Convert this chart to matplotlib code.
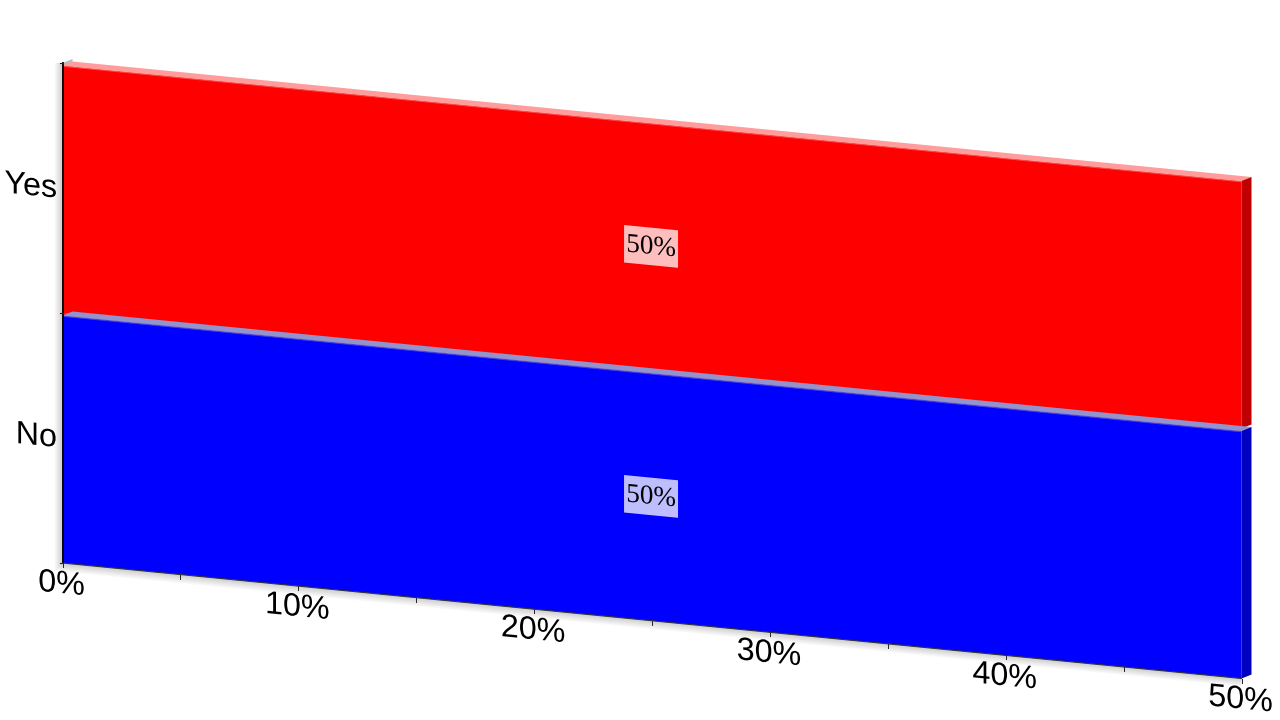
import matplotlib
matplotlib.use("Agg")
import matplotlib.pyplot as plt
from matplotlib.patheffects import AbstractPathEffect
from matplotlib.transforms import Affine2D
import numpy as np

# data
categories = ["No", "Yes"]
values = [50, 50]
value_labels = ["50%", "50%"]
x_ticks = [0, 10, 20, 30, 40, 50]
x_tick_labels = ["0%", "10%", "20%", "30%", "40%", "50%"]
x_minor = [5, 15, 25, 35, 45]

front_colors = ["#0000ff", "#ff0000"]
top_colors = ["#9494cc", "#ff9c9c"]
side_colors = ["#0000c0", "#c00000"]

# the fake 3d view: one skewed plane plus a small depth offset, in pixels
x0, y0 = 62.5, 563
sx, skew, sy = 23.58, 2.31, 250
dx, dy = 10, -4
bar_height = 0.99


class Shear(AbstractPathEffect):
    # text in the reference is sheared, not rotated: stems stay vertical
    def __init__(self, k):
        super().__init__()
        self.k = k

    def draw_path(self, renderer, gc, tpath, affine, rgbFace=None):
        ext = tpath.get_extents()
        cx = affine.transform(((ext.x0 + ext.x1) / 2, 0))[0]
        shear = Affine2D.from_values(1, -self.k, 0, 1, 0, self.k * cx)
        renderer.draw_path(gc, tpath, affine + shear, rgbFace)


def px(x, y, d=0):
    return x0 + sx * x + dx * d, y0 + skew * x - sy * y + dy * d


def poly(points, color, z, alpha=None):
    xy = np.array([px(*p) for p in points])
    ax.fill(xy[:, 0], xy[:, 1], color=color, lw=0, zorder=z, alpha=alpha)


fig = plt.figure(figsize=(12.8, 7.2), dpi=100)
ax = fig.add_axes([0, 0, 1, 1])
plane = Affine2D.from_values(sx, skew, 0, -sy, x0, y0) + ax.transData
shear_fx = [Shear(skew / sx)]
xmax = max(x_ticks)
ymax = len(categories)

# floor and wall behind the bars
poly([(0, 0, 0), (xmax, 0, 0), (xmax, 0, 1), (0, 0, 1)], "#d8d8d8", 1)
poly([(0, 0, 0), (0, ymax, 0), (0, ymax, 1), (0, 0, 1)], "#bcbcbc", 1)

# soft shadow round the axis lines
for i in range(1, 9):
    a = 0.022
    xa, ya = px(0, 0)
    xb, yb = px(0, ymax)
    ax.fill([xa - i, xa, xb, xb - i], [ya + i, ya, yb, yb], color="black", alpha=a, lw=0, zorder=1)
    xc, yc = px(xmax, 0)
    ax.fill([xa - i, xc, xc, xa], [ya + i, yc + i, yc, ya], color="black", alpha=a, lw=0, zorder=1)

# bars: upper one first so the top face of the lower one sits on it
for i in [1, 0]:
    ax.barh(i + bar_height / 2, values[i], height=bar_height, color=front_colors[i],
            lw=0, transform=plane, zorder=3)
    # red bar reaches down to the blue bar, no gap
    if i == 1:
        ax.barh(i - 0.005, values[i], height=0.01, color=front_colors[i], lw=0,
                transform=plane, zorder=3)
    t = i + bar_height
    poly([(0, t, 0), (values[i], t, 0), (values[i], t, 1), (0, t, 1)], top_colors[i], 4)
    poly([(values[i], i, 0), (values[i], t, 0), (values[i], t, 1), (values[i], i, 1)], side_colors[i], 4)
    # soft lower edge on the top face
    xl, yl = px(0, t)
    xr, yr = px(values[i], t)
    ax.plot([xl, xr], [yl + 0.6, yr + 0.6], color=top_colors[i], lw=1.0, alpha=0.45, zorder=4,
            solid_capstyle="butt")

# axis lines and ticks
xa, ya = px(0, 0)
xb, yb = px(0, ymax)
xc, yc = px(xmax, 0)
ax.plot([xa, xb], [ya, yb], color="black", lw=1.3, zorder=5)
ax.plot([xa, xc], [ya, yc], color="#333333", lw=0.8, zorder=5)
for v in sorted(x_ticks + x_minor):
    x, y = px(v, 0)
    ax.plot([x, x], [y, y + 4], color="#222222", lw=0.7, zorder=5)
for v in range(ymax + 1):
    x, y = px(0, v)
    ax.plot([x - 3, x], [y, y], color="#222222", lw=0.8, zorder=5)

# tick labels
for v, lab in zip(x_ticks, x_tick_labels):
    x, y = px(v, 0)
    ax.text(x - 1, y + 22, lab, fontsize=23.2, family="Liberation Sans", ha="center", va="center",
            color="black", zorder=6, path_effects=shear_fx)
for i, lab in enumerate(categories):
    x, y = px(0, i + 0.5)
    ax.text(x - 5.5, y - 1, lab, fontsize=23.2, family="Liberation Sans", ha="right", va="center",
            color="black", zorder=6, path_effects=shear_fx)

# value labels on a pale box
half_w, half_h = 1.145, 0.075
for i, lab in enumerate(value_labels):
    cx, cy = values[i] / 2 - 0.04, i + 0.497
    poly([(cx - half_w, cy - half_h), (cx + half_w, cy - half_h),
          (cx + half_w, cy + half_h), (cx - half_w, cy + half_h)], "white", 6, alpha=0.75)
    x, y = px(cx, cy)
    ax.text(x, y + 1, lab, fontsize=19.5, family="Liberation Serif", ha="center", va="center",
            color="black", zorder=7, path_effects=shear_fx)

ax.set_xlim(0, 1280)
ax.set_ylim(720, 0)
ax.axis("off")

fig.savefig("out.png", dpi=100)
